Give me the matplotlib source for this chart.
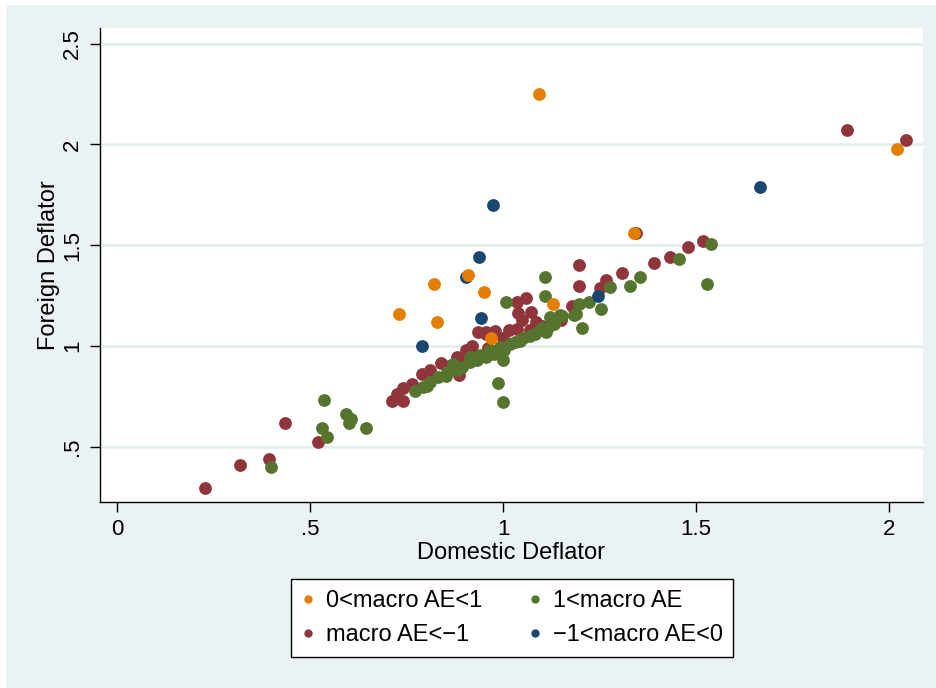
import matplotlib
matplotlib.use("Agg")
import matplotlib.pyplot as plt
from matplotlib.lines import Line2D
from matplotlib.patches import Rectangle

plt.rcParams['font.family'] = ['Liberation Sans', 'DejaVu Sans']

# ---- data ----
orange_x = [1.093, 2.02, 1.34, 0.91, 0.82, 0.95, 0.73, 0.83, 1.13, 0.97]
orange_y = [2.25, 1.98, 1.56, 1.35, 1.31, 1.27, 1.16, 1.12, 1.21, 1.04]

navy_x = [1.665, 0.975, 0.937, 0.905, 0.942, 0.79, 1.247]
navy_y = [1.79, 1.70, 1.44, 1.34, 1.14, 1.00, 1.25]

maroon_x = [1.89, 2.045, 1.345, 1.517, 1.48, 1.432, 1.392, 1.307, 1.267, 1.252,
            1.197, 1.197, 1.18, 1.06, 1.035, 1.04, 1.072, 1.05, 1.085, 1.015,
            1.035, 0.98, 0.955, 0.935, 0.955, 0.92, 0.905, 0.88, 0.885, 0.84,
            0.81, 0.79, 0.765, 0.74, 0.725, 0.74, 0.712, 1.0, 1.07, 1.1, 1.15,
            0.86, 0.9, 0.96, 0.436, 0.521, 0.395, 0.318, 0.229]
maroon_y = [2.07, 2.02, 1.56, 1.52, 1.49, 1.44, 1.41, 1.36, 1.33, 1.29,
            1.40, 1.30, 1.20, 1.24, 1.22, 1.165, 1.17, 1.13, 1.12, 1.08,
            1.085, 1.075, 1.06, 1.07, 1.07, 1.0, 0.98, 0.945, 0.855, 0.915,
            0.88, 0.86, 0.81, 0.79, 0.76, 0.725, 0.725, 1.04, 1.08, 1.1, 1.13,
            0.9, 0.93, 0.99, 0.62, 0.525, 0.44, 0.41, 0.295]

green_x = [1.539, 1.455, 1.355, 1.329, 1.278, 1.529, 1.254, 1.222, 1.198, 1.185,
           1.204, 1.11, 1.11, 1.007, 1.147, 1.134, 1.112, 1.19, 1.0, 0.987,
           0.999, 0.772, 0.793, 0.811, 0.832, 0.854, 0.871, 0.893, 0.914, 0.94,
           0.957, 0.914, 0.966, 0.992, 1.018, 1.043, 1.069, 1.095, 1.116, 1.121,
           0.977, 1.002, 1.032, 1.052, 1.082, 1.102, 1.132, 1.152, 0.882, 0.932, 0.852, 0.802,
           0.535, 0.593, 0.606, 0.602, 0.531, 0.544, 0.645, 0.399]
green_y = [1.505, 1.43, 1.34, 1.297, 1.293, 1.308, 1.185, 1.22, 1.21, 1.152,
           1.09, 1.34, 1.248, 1.218, 1.152, 1.136, 1.07, 1.16, 0.93, 0.815,
           0.723, 0.778, 0.795, 0.82, 0.845, 0.87, 0.911, 0.894, 0.92, 0.953,
           0.944, 0.944, 0.978, 0.994, 1.011, 1.027, 1.052, 1.077, 1.094, 1.144,
           0.96, 0.98, 1.02, 1.04, 1.06, 1.09, 1.11, 1.15, 0.88, 0.93, 0.85, 0.8,
           0.732, 0.662, 0.637, 0.62, 0.595, 0.549, 0.595, 0.40]

x_ticks = [0, 0.5, 1, 1.5, 2]
x_labels = ['0', '.5', '1', '1.5', '2']
y_ticks = [0.5, 1, 1.5, 2, 2.5]
y_labels = ['.5', '1', '1.5', '2', '2.5']

labels = ['0<macro AE<1', '1<macro AE', 'macro AE<\u22121', '\u22121<macro AE<0']

c_orange = '#E37E00'
c_green = '#55752F'
c_maroon = '#90353B'
c_navy = '#1A476F'
bg = '#EAF2F3'

W, H = 937, 688
fig = plt.figure(figsize=(W / 100, H / 100), dpi=100)
fig.patch.set_facecolor('white')
fig.patches.append(Rectangle((6 / W, 0), 1 - 6 / W, 1 - 5 / H, transform=fig.transFigure,
                             facecolor=bg, edgecolor='none', zorder=-10))

ax = fig.add_axes([100 / W, 1 - 502 / H, 823 / W, 474 / H])
ax.set_facecolor('white')

s = 85
ax.scatter(maroon_x, maroon_y, s=s, color=c_maroon, linewidths=0, zorder=3)
ax.scatter(green_x, green_y, s=s, color=c_green, linewidths=0, zorder=4)
ax.scatter(navy_x, navy_y, s=s, color=c_navy, linewidths=0, zorder=5)
ax.scatter(orange_x, orange_y, s=s, color=c_orange, linewidths=0, zorder=6)

ax.set_xlim(-0.044, 2.088)
ax.set_ylim(0.226, 2.578)

ax.set_xticks(x_ticks)
ax.set_xticklabels(x_labels)
ax.set_yticks(y_ticks)
ax.set_yticklabels(y_labels, rotation=90, va='center')

for y in y_ticks:
    ax.axhline(y, color='#E1ECEE', linewidth=1.8, zorder=1)

for side in ['top', 'right']:
    ax.spines[side].set_visible(False)
for side in ['left', 'bottom']:
    ax.spines[side].set_color('black')
    ax.spines[side].set_linewidth(1.0)

ax.tick_params(axis='both', direction='out', length=7, width=1, colors='black',
               labelsize=16, pad=5)

ax.set_xlabel('Domestic Deflator', fontsize=17, labelpad=2)
ax.set_ylabel('Foreign Deflator', fontsize=17, labelpad=2)

handles = [
    Line2D([], [], marker='o', linestyle='none', color=c_orange, markersize=6, markeredgewidth=0),
    Line2D([], [], marker='o', linestyle='none', color=c_maroon, markersize=6, markeredgewidth=0),
    Line2D([], [], marker='o', linestyle='none', color=c_green, markersize=6, markeredgewidth=0),
    Line2D([], [], marker='o', linestyle='none', color=c_navy, markersize=6, markeredgewidth=0),
]
leg_labels = [labels[0], labels[2], labels[1], labels[3]]
leg = fig.legend(handles, leg_labels, ncol=2, loc='center',
                 bbox_to_anchor=(512 / W, 1 - 618 / H), bbox_transform=fig.transFigure,
                 fontsize=17, frameon=True, fancybox=False, framealpha=1,
                 edgecolor='black', handlelength=0.6, handletextpad=0.46,
                 columnspacing=1.9, labelspacing=0.49, borderpad=0.46)
leg.get_frame().set_linewidth(1.0)

fig.savefig('out.png', dpi=100)
